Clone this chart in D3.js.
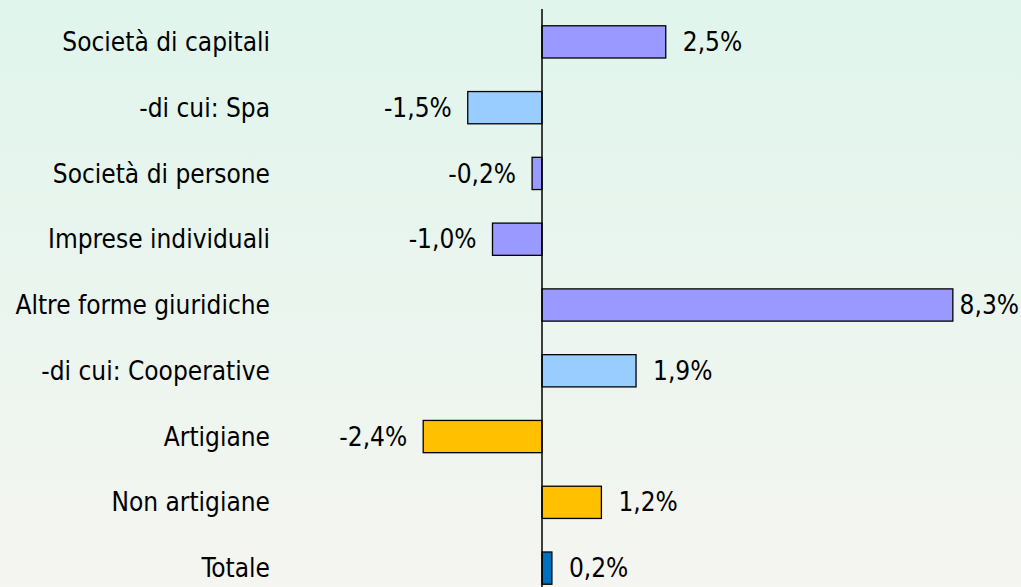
<!DOCTYPE html>
<html>
<head>
<meta charset="utf-8">
<script src="https://cdn.jsdelivr.net/npm/d3@7"></script>
<style>
  html, body { margin: 0; padding: 0; }
  body { width: 1021px; height: 587px; overflow: hidden; }
  text { font-family: "DejaVu Sans Condensed", "DejaVu Sans", sans-serif; font-stretch: condensed; }
</style>
</head>
<body>
<div id="chart"></div>
<script>
const categories = ["Società di capitali", "-di cui: Spa", "Società di persone", "Imprese individuali",
  "Altre forme giuridiche", "-di cui: Cooperative", "Artigiane", "Non artigiane", "Totale"];
const values = [2.5, -1.5, -0.2, -1.0, 8.3, 1.9, -2.4, 1.2, 0.2];
const barColors = ["#9999ff", "#99ccff", "#9999ff", "#9999ff", "#9999ff", "#99ccff", "#ffc000", "#ffc000", "#0070c0"];

const width = 1021, height = 587;

const svg = d3.select("#chart").append("svg")
    .attr("width", width)
    .attr("height", height);

// background gradient
const grad = svg.append("defs").append("linearGradient")
    .attr("id", "bg").attr("x1", 0).attr("y1", 0).attr("x2", 0).attr("y2", 1);
grad.append("stop").attr("offset", "0%").attr("stop-color", "#e0f5ec");
grad.append("stop").attr("offset", "100%").attr("stop-color", "#f5f5f1");
svg.append("rect").attr("width", width).attr("height", height).attr("fill", "url(#bg)");

const x = d3.scaleLinear()
    .domain([-10, 9])
    .range([47, 987.5]);

const y = d3.scaleBand()
    .domain(categories)
    .range([9, 601])
    .paddingInner(0.51)
    .paddingOuter(0.255);

// bars
svg.selectAll("rect.bar")
    .data(values)
    .enter().append("rect")
    .attr("class", "bar")
    .attr("x", d => x(Math.min(0, d)))
    .attr("y", (d, i) => y(categories[i]))
    .attr("width", d => Math.abs(x(d) - x(0)))
    .attr("height", y.bandwidth())
    .attr("fill", (d, i) => barColors[i])
    .attr("stroke", "#000")
    .attr("stroke-width", 1.3);

// zero axis
svg.append("line")
    .attr("x1", x(0)).attr("x2", x(0))
    .attr("y1", 9).attr("y2", height)
    .attr("stroke", "#000")
    .attr("stroke-width", 1.5);

// category labels
svg.selectAll("text.cat")
    .data(categories)
    .enter().append("text")
    .attr("class", "cat")
    .attr("x", 270)
    .attr("y", d => y(d) + y.bandwidth() / 2)
    .attr("dy", "0.35em")
    .attr("text-anchor", "end")
    .style("font-size", "26px")
    .attr("fill", "#000")
    .text(d => d);

// value labels
const fmt = v => v.toFixed(1).replace(".", ",") + "%";
svg.selectAll("text.val")
    .data(values)
    .enter().append("text")
    .attr("class", "val")
    .attr("x", d => d >= 0 ? x(d) + 17 : x(d) - 16)
    .attr("y", (d, i) => y(categories[i]) + y.bandwidth() / 2)
    .attr("dy", "0.35em")
    .attr("text-anchor", d => d >= 0 ? "start" : "end")
    .style("font-size", "26px")
    .attr("fill", "#000")
    .text(fmt)
    .each(function(d) {
        // keep labels inside the frame
        const w = this.getComputedTextLength();
        if (d >= 0 && x(d) + 17 + w > width - 2) {
            d3.select(this).attr("x", width - 2).attr("text-anchor", "end");
        }
    });
</script>
</body>
</html>
